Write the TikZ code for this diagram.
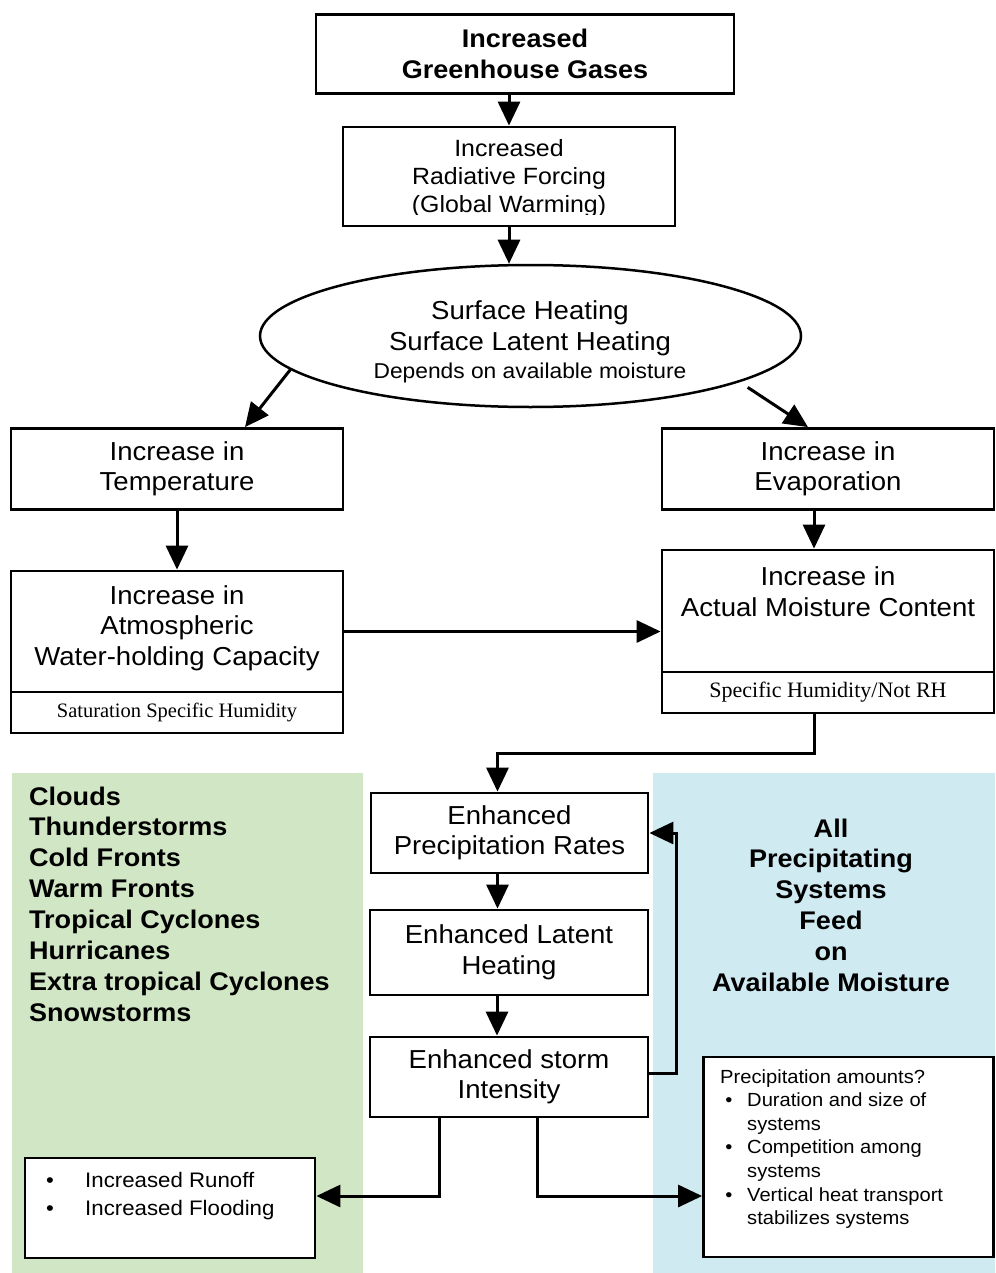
\documentclass[tikz,border=0pt]{standalone}
\usepackage{fontspec}
\setmainfont{Liberation Sans}[FakeStretch=1.06]
\newfontfamily\serifx{Liberation Serif}
\usetikzlibrary{arrows.meta,shapes.geometric}
\definecolor{greenp}{RGB}{208,230,196}
\definecolor{bluep}{RGB}{208,234,242}
\newcommand\FMain{\fontsize{26}{30.5}\selectfont}
\newcommand\FRad{\fontsize{23.5}{28}\selectfont}
\newcommand\FBoldx{\fontsize{25.5}{31}\selectfont\bfseries}
\newcommand\FDep{\fontsize{21.5}{26}\selectfont}
\newcommand\FSmall{\fontsize{19}{23.6}\selectfont}
\newcommand\FRun{\fontsize{21}{28}\selectfont}
\begin{document}
\begin{tikzpicture}[x=1pt,y=-1pt,
  box/.style={draw, line width=2.8pt, fill=white, inner sep=0pt, align=center, font=\FMain},
  txt/.style={inner sep=0pt, align=center},
  arr/.style={line width=3pt, -{Triangle[length=24pt,width=22pt]}},
  panel/.style={inner sep=0pt, draw=none}]
\useasboundingbox (0,0) rectangle (995,1273);
\fill[white] (0,0) rectangle (995,1273);

% background panels
\node[panel, fill=greenp, minimum width=351, minimum height=500] (gpanel) at (187.5,1023) {};
\node[panel, fill=bluep, minimum width=342, minimum height=500] (bpanel) at (824,1023) {};

% top chain
\node[box, font=\FBoldx, minimum width=418, minimum height=79] (ghg) at (525,54) {Increased\\Greenhouse Gases};
\node[box, minimum width=332, minimum height=99] (rad) at (509,176.5) {};
\begin{scope}
  \clip (346,130) rectangle (672,215);
  \node[txt, font=\FRad] (radt) at (509,178) {Increased\\Radiative Forcing\\(Global Warming)};
\end{scope}

\node[ellipse, draw, line width=2.5pt, fill=white, minimum width=541, minimum height=142, inner sep=0pt] (ell) at (530.5,336) {};
\node[txt, font=\FMain, anchor=base] (ell1) at (530,319) {Surface Heating};
\node[txt, font=\FMain, anchor=base] (ell2) at (530,350) {Surface Latent Heating};
\node[txt, font=\FDep, anchor=base] (ell3) at (530,378) {Depends on available moisture};

% left column
\node[box, minimum width=332, minimum height=81] (temp) at (177,469) {Increase in\\Temperature};
\node[box, minimum width=332, minimum height=121] (atm) at (177,631.5) {};
\node[txt, font=\FMain] (atmt) at (177,628) {Increase in\\Atmospheric\\Water-holding Capacity};
\node[box, font=\serifx\fontsize{20.5}{24}\selectfont, minimum width=332, minimum height=41] (atms) at (177,712.5) {Saturation Specific Humidity};

% right column
\node[box, minimum width=332, minimum height=81] (evap) at (828,469) {Increase in\\Evaporation};
\node[box, minimum width=332, minimum height=122] (moist) at (828,611) {};
\node[txt, font=\FMain] (moistt) at (828,591.5) {Increase in\\Actual Moisture Content};
\node[box, font=\serifx\fontsize{22}{26}\selectfont, minimum width=332, minimum height=41] (moists) at (828,692.5) {Specific Humidity/Not RH};

% central column
\node[box, minimum width=277, minimum height=80] (precip) at (509.5,833) {Enhanced\\Precipitation Rates};
\node[box, minimum width=278, minimum height=85] (latent) at (509,952.5) {Enhanced Latent\\Heating};
\node[box, minimum width=278, minimum height=80] (storm) at (509,1077) {Enhanced storm\\Intensity};

% bottom boxes
\node[box, minimum width=290, minimum height=100] (runoff) at (170,1208) {};
\node[txt, font=\FRun, anchor=base] (rb1) at (50,1187) {\textbullet};
\node[txt, font=\FRun, anchor=base west] (r1) at (85,1187) {Increased Runoff};
\node[txt, font=\FRun, anchor=base] (rb2) at (50,1215) {\textbullet};
\node[txt, font=\FRun, anchor=base west] (r2) at (85,1215) {Increased Flooding};

\node[box, minimum width=290, minimum height=200] (amounts) at (848.5,1157) {};
\node[txt, font=\FSmall, anchor=base west] (a0) at (720,1083) {Precipitation amounts?};
\foreach \t [count=\i] in {Duration and size of,systems,Competition among,systems,Vertical heat transport,stabilizes systems}
  \node[txt, font=\FSmall, anchor=base west] (a\i) at (747,1083+23.6*\i) {\t};
\foreach \i in {1,3,5}
  \node[txt, font=\FSmall, anchor=base] (ab\i) at (729,1083+23.6*\i) {\textbullet};

% panel texts
\foreach \t [count=\i from 0] in {Clouds,Thunderstorms,Cold Fronts,Warm Fronts,Tropical Cyclones,Hurricanes,Extra tropical Cyclones,Snowstorms}
  \node[txt, font=\FBoldx, anchor=base west] (g\i) at (29,805+30.9*\i) {\t};
\foreach \t [count=\i from 0] in {All,Precipitating,Systems,Feed,on,Available Moisture}
  \node[txt, font=\FBoldx, anchor=base] (b\i) at (831,837+30.8*\i) {\t};

% connectors
\draw[arr] (rad.north |- ghg.south) -- (rad.north);
\draw[arr] (rad.south) -- (rad.south |- ell.north);
\draw[arr] (ell.188) -- ([xshift=68]temp.north);
\draw[arr] ([shift={(12,4)}]ell.347) -- ([xshift=-20]evap.north);
\draw[arr] (temp.south) -- (atm.north);
\draw[arr] ([xshift=-14]evap.south) -- ([xshift=-14]evap.south |- moist.north);
\draw[arr] (atm.east) -- (atm.east -| moist.west);
\draw[arr] ([xshift=-14]moists.south) -- ++(0,39) -| ([xshift=-12]precip.north);
\draw[arr] ([xshift=-12]precip.south) -- ([xshift=-12]precip.south |- latent.north);
\draw[arr] ([xshift=-12]latent.south) -- ([xshift=-12]latent.south |- storm.north);
\draw[arr] ([yshift=4]storm.east) -- ++(27,0) |- (precip.east);
\draw[arr] ([xshift=-70]storm.south) |- ([yshift=12]runoff.east);
\draw[arr] ([xshift=28]storm.south) |- ([yshift=-39]amounts.west);
\end{tikzpicture}
\end{document}
